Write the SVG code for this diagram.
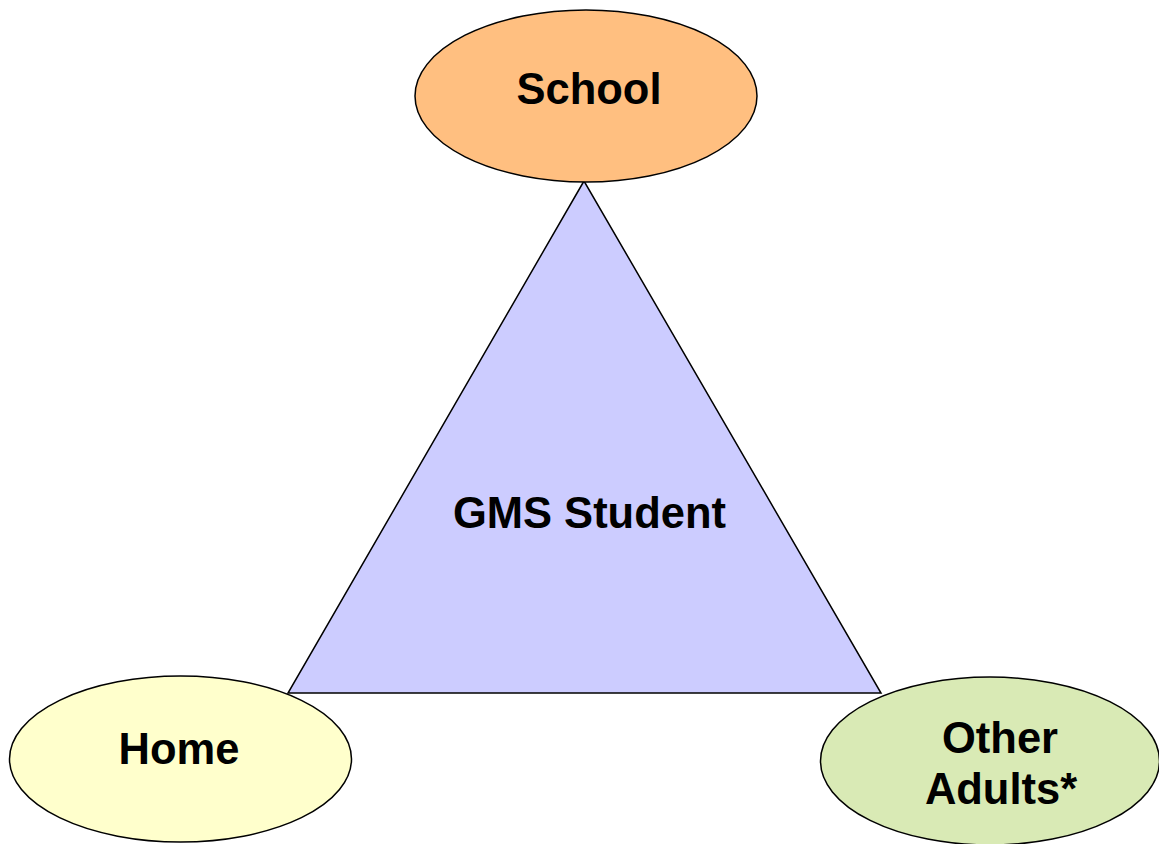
<svg xmlns="http://www.w3.org/2000/svg" width="1159" height="844" viewBox="0 0 1159 844">
<style>
.shape{stroke:#000;stroke-width:1.5}
.lbl{font-family:"Liberation Sans",Arial,sans-serif;font-weight:bold;font-size:43.5px;fill:#000;text-anchor:middle}
</style>
<rect width="1159" height="844" fill="#fff"/>
<g id="connectors"></g>
<g id="student">
<polygon class="shape" points="584,181 288,693 881,693" fill="#ccccff"/>
<text class="lbl" x="589.5" y="528">GMS Student</text>
</g>
<g id="school">
<ellipse class="shape" cx="586" cy="96" rx="171" ry="86" fill="#ffbf80"/>
<text class="lbl" x="589" y="104">School</text>
</g>
<g id="home">
<ellipse class="shape" cx="180.5" cy="759" rx="171" ry="83" fill="#ffffcc"/>
<text class="lbl" x="179" y="764">Home</text>
</g>
<g id="other">
<ellipse class="shape" cx="990" cy="761" rx="169.5" ry="84" fill="#d9eab5"/>
<text class="lbl" x="1000" y="753">Other</text>
<text class="lbl" x="1001" y="804">Adults*</text>
</g>
</svg>
